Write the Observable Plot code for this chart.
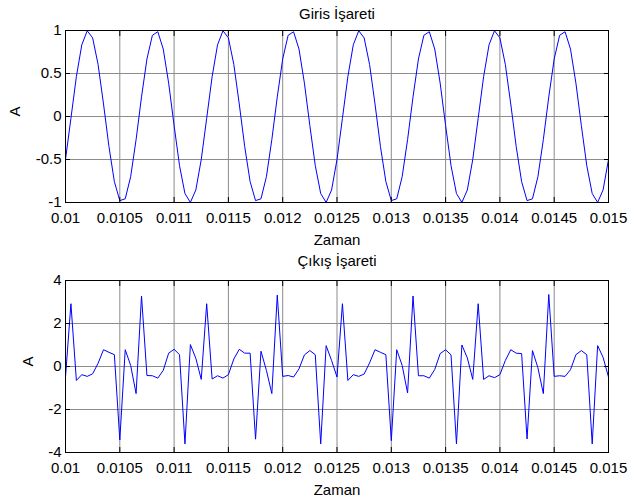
<!DOCTYPE html>
<html>
<head>
<meta charset="utf-8">
<script src="https://cdn.jsdelivr.net/npm/d3@7"></script>
<script src="https://cdn.jsdelivr.net/npm/@observablehq/plot@0.6"></script>
<style>
  body { margin: 0; background: #fff; }
  #chart { width: 631px; height: 501px; }
  #chart svg { display: block; }
</style>
</head>
<body>
<div id="chart"></div>
<script>
// Sample times (s)
const time = [
  0.01,0.01005,0.0101,0.01015,0.0102,0.01025,0.0103,0.01035,0.0104,0.01045,
  0.0105,0.01055,0.0106,0.01065,0.0107,0.01075,0.0108,0.01085,0.0109,0.01095,
  0.011,0.01105,0.0111,0.01115,0.0112,0.01125,0.0113,0.01135,0.0114,0.01145,
  0.0115,0.01155,0.0116,0.01165,0.0117,0.01175,0.0118,0.01185,0.0119,0.01195,
  0.012,0.01205,0.0121,0.01215,0.0122,0.01225,0.0123,0.01235,0.0124,0.01245,
  0.0125,0.01255,0.0126,0.01265,0.0127,0.01275,0.0128,0.01285,0.0129,0.01295,
  0.013,0.01305,0.0131,0.01315,0.0132,0.01325,0.0133,0.01335,0.0134,0.01345,
  0.0135,0.01355,0.0136,0.01365,0.0137,0.01375,0.0138,0.01385,0.0139,0.01395,
  0.014,0.01405,0.0141,0.01415,0.0142,0.01425,0.0143,0.01435,0.0144,0.01445,
  0.0145,0.01455,0.0146,0.01465,0.0147,0.01475,0.0148,0.01485,0.0149,0.01495,
  0.015
];

// Input signal (Giris İşareti)
const girisValues = [
  -0.5,-0.021,0.463,0.833,0.997,0.914,0.605,0.146,-0.349,-0.757,
  -0.978,-0.957,-0.7,-0.269,0.228,0.669,0.944,0.986,0.784,0.388,
  -0.105,-0.571,-0.896,-0.999,-0.855,
  -0.5,-0.021,0.463,0.833,0.997,0.914,0.605,0.146,-0.349,-0.757,
  -0.978,-0.957,-0.7,-0.269,0.228,0.669,0.944,0.986,0.784,0.388,
  -0.105,-0.571,-0.896,-0.999,-0.855,
  -0.5,-0.021,0.463,0.833,0.997,0.914,0.605,0.146,-0.349,-0.757,
  -0.978,-0.957,-0.7,-0.269,0.228,0.669,0.944,0.986,0.784,0.388,
  -0.105,-0.571,-0.896,-0.999,-0.855,
  -0.5,-0.021,0.463,0.833,0.997,0.914,0.605,0.146,-0.349,-0.757,
  -0.978,-0.957,-0.7,-0.269,0.228,0.669,0.944,0.986,0.784,0.388,
  -0.105,-0.571,-0.896,-0.999,-0.855,
  -0.5
];

// Output signal (Çıkış İşareti)
const cikisValues = [
  -0.49,2.92,-0.65,-0.38,-0.46,-0.34,0.15,0.78,0.66,0.55,
  -3.42,0.78,0.05,-1.26,3.28,-0.42,-0.43,-0.54,-0.18,0.62,
  0.8,0.55,-3.6,1.02,0.38,-0.6,2.92,-0.58,-0.43,-0.54,
  -0.38,0.35,0.8,0.62,0.62,-3.38,0.71,-0.18,-1.26,3.32,
  -0.46,-0.42,-0.49,-0.11,0.54,0.74,0.55,-3.6,0.97,0.28,
  -0.49,2.92,-0.65,-0.38,-0.46,-0.35,0.17,0.78,0.66,0.55,
  -3.45,0.78,0.05,-1.23,3.28,-0.43,-0.43,-0.54,-0.14,0.6,
  0.78,0.54,-3.6,1.0,0.4,-0.6,2.92,-0.6,-0.43,-0.52,
  -0.38,0.28,0.78,0.62,0.6,-3.37,0.74,-0.06,-1.26,3.35,
  -0.46,-0.43,-0.46,-0.15,0.55,0.74,0.55,-3.6,0.97,0.43,
  -0.49
];

const xTicks = [0.01,0.0105,0.011,0.0115,0.012,0.0125,0.013,0.0135,0.014,0.0145,0.015];
const xTickLabels = ["0.01","0.0105","0.011","0.0115","0.012","0.0125","0.013","0.0135","0.014","0.0145","0.015"];
const yTicksTop = [-1,-0.5,0,0.5,1];
const yTickLabelsTop = ["-1","-0.5","0","0.5","1"];
const yTicksBottom = [-4,-2,0,2,4];
const yTickLabelsBottom = ["-4","-2","0","2","4"];
const titles = ["Giris İşareti", "Çıkış İşareti"];
const xLabel = "Zaman";
const yLabel = "A";

const FONT = "'Liberation Sans', Arial, Helvetica, sans-serif";
const FS = 15;

function panel({values, yDomain, yTicks, yLabels, title, height, marginBottom, yLabelDx, titleDy}) {
  const data = time.map((t, i) => ({t, v: values[i]}));
  const fmtX = d => xTickLabels[xTicks.indexOf(d)];
  const fmtY = d => yLabels[yTicks.indexOf(d)];
  const blank = () => "";
  return Plot.plot({
    width: 631,
    height,
    marginLeft: 65,
    marginRight: 23,
    marginTop: 30,
    marginBottom,
    style: {fontFamily: FONT, fontSize: FS + "px", color: "black", background: "white", overflow: "visible"},
    x: {domain: [0.01, 0.015]},
    y: {domain: yDomain},
    marks: [
      Plot.gridX(xTicks, {stroke: "#8c8c8c", strokeOpacity: 1, strokeWidth: 1}),
      Plot.gridY(yTicks, {stroke: "#8c8c8c", strokeOpacity: 1, strokeWidth: 1}),
      Plot.line(data, {x: "t", y: "v", stroke: "#0000ff", strokeWidth: 1}),
      Plot.frame({stroke: "black", strokeWidth: 1}),
      // inward ticks on all four sides
      Plot.axisX(xTicks, {anchor: "bottom", tickSize: -5, tickFormat: blank, label: null, stroke: "black"}),
      Plot.axisX(xTicks, {anchor: "top", tickSize: -5, tickFormat: blank, label: null, stroke: "black"}),
      Plot.axisY(yTicks, {anchor: "left", tickSize: -5, tickFormat: blank, label: null, stroke: "black"}),
      Plot.axisY(yTicks, {anchor: "right", tickSize: -5, tickFormat: blank, label: null, stroke: "black"}),
      // tick labels
      Plot.axisX(xTicks, {anchor: "bottom", tickSize: 0, tickPadding: 9.5, tickFormat: fmtX, label: null, fontSize: FS, fill: "black"}),
      Plot.axisY(yTicks, {anchor: "left", tickSize: 0, tickPadding: 4, tickFormat: fmtY, label: null, fontSize: FS, fill: "black"}),
      // title and axis labels
      Plot.text([title], {frameAnchor: "top", text: d => d, lineAnchor: "bottom", dy: titleDy, fontSize: FS, fill: "black"}),
      Plot.text([xLabel], {frameAnchor: "bottom", text: d => d, lineAnchor: "bottom", dy: 42, fontSize: FS, fill: "black"}),
      Plot.text([yLabel], {frameAnchor: "left", text: d => d, lineAnchor: "middle", rotate: -90, dx: yLabelDx, fontSize: FS, fill: "black"})
    ]
  });
}

const chart = document.getElementById("chart");
chart.appendChild(panel({
  values: girisValues, yDomain: [-1, 1], yTicks: yTicksTop, yLabels: yTickLabelsTop,
  title: titles[0], height: 250, marginBottom: 48, yLabelDx: -50, titleDy: -12
}));
chart.appendChild(panel({
  values: cikisValues, yDomain: [-4, 4], yTicks: yTicksBottom, yLabels: yTickLabelsBottom,
  title: titles[1], height: 251, marginBottom: 49, yLabelDx: -37, titleDy: -15
}));
</script>
</body>
</html>
